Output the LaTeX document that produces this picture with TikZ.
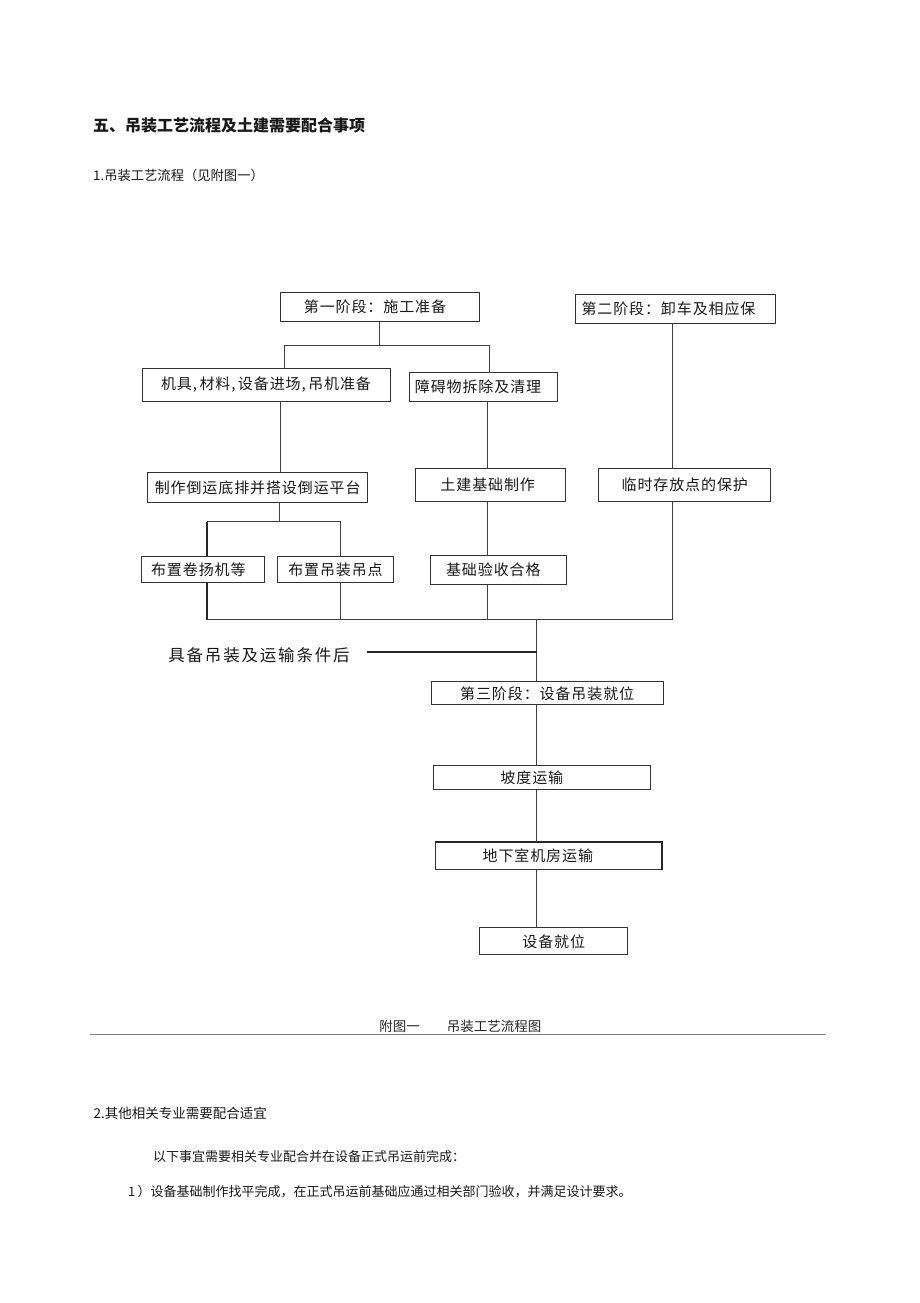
\documentclass[tikz,border=0pt]{standalone}
\usepackage{fontspec}
\setmainfont{Noto Sans CJK SC}
\newfontfamily\boxfont[LetterSpace=6]{Noto Sans CJK SC}
\newfontfamily\condfont[LetterSpace=11]{Noto Sans CJK SC}
\newcommand\shiftL[2]{\hspace*{-#1}#2}
\begin{document}
\begin{tikzpicture}[x=1pt,y=-1pt,
  box/.style={draw=black!80, line width=1pt, inner sep=0pt,
    font=\boxfont\fontsize{15}{18}\selectfont, text=black!90},
  conn/.style={draw=black!75, line width=1pt},
  heavy/.style={draw=black!85, line width=1.8pt},
  txt/.style={inner sep=0pt, anchor=west, text=black!90}]
\useasboundingbox[fill=white] (0,0) rectangle (920,1303);

% headings
\node[txt, font=\fontsize{16}{19}\selectfont\bfseries] (title) at (93,125) {五、吊装工艺流程及土建需要配合事项};
\node[txt, font=\fontsize{13.3}{16}\selectfont] (sub1) at (93,175) {1.吊装工艺流程（见附图一）};

% boxes
\node[box, minimum width=199pt, minimum height=29pt] (s1) at (379.5,306.5) {\shiftL{9pt}{第一阶段：施工准备}};
\node[box, minimum width=200pt, minimum height=29pt] (s2) at (675,308.5) {\shiftL{13pt}{第二阶段：卸车及相应保}};
\node[box, minimum width=248pt, minimum height=33pt] (jj) at (266,384.5) {机具,\,材料,\,设备进场,\,吊机准备};
\node[box, minimum width=148pt, minimum height=29pt] (zq) at (483,387.2) {\shiftL{10pt}{障碍物拆除及清理}};
\node[box, minimum width=220pt, minimum height=30pt] (zz) at (257.7,487.7) {制作倒运底排并搭设倒运平台};
\node[box, minimum width=150pt, minimum height=33.4pt] (tj) at (490.7,485) {\shiftL{6pt}{土建基础制作}};
\node[box, minimum width=171.7pt, minimum height=33.4pt] (ls) at (684.8,485) {临时存放点的保护};
\node[box, minimum width=123.3pt, minimum height=25.6pt] (bj) at (203.3,569.5) {\shiftL{10pt}{布置卷扬机等}};
\node[box, minimum width=115.6pt, minimum height=25.6pt] (bd) at (335.5,569.5) {布置吊装吊点};
\node[box, minimum width=135.7pt, minimum height=29.3pt] (ys) at (498.8,569.7) {\shiftL{11pt}{基础验收合格}};
\node[box, minimum width=232.3pt, minimum height=23.3pt] (s3) at (547.2,693.3) {第三阶段：设备吊装就位};
\node[box, minimum width=216.7pt, minimum height=24.3pt] (pd) at (542.3,777.8) {\shiftL{21pt}{坡度运输}};
\node[box, minimum width=225.7pt, minimum height=26.6pt] (dx) at (548.8,856) {\shiftL{22pt}{地下室机房运输}};
\node[box, minimum width=147.7pt, minimum height=27.3pt] (jw) at (553.8,941.3) {设备就位};
\draw[heavy] (dx.north west) -- (dx.north east) -- (dx.south east);

% condition label
\node[inner sep=0pt, font=\condfont\fontsize{16.5}{19}\selectfont, text=black!90] (cond) at (259,655) {具备吊装及运输条件后};

% coordinates for connector columns
\coordinate (j1) at (284,345.7);
\coordinate (j2) at (489.3,345.7);
\coordinate (xa) at (280,0);
\coordinate (xb) at (487.7,0);
\coordinate (xc) at (672.5,0);
\coordinate (k0) at (279,521.7);
\coordinate (k1) at (206.7,521.7);
\coordinate (k2) at (340.5,521.7);
\coordinate (m1) at (206.7,619.5);
\coordinate (m2) at (672.5,619.5);
\coordinate (m0) at (536.7,619.5);
\coordinate (ci) at (366.7,652);
\coordinate (cj) at (536.7,652);

% connectors
\draw[conn] (s1.south) -- (s1.south |- j1);
\draw[conn] (j1 |- jj.north) -- (j1) -- (j2) -- (j2 |- zq.north);
\draw[conn] (jj.south -| xa) -- (zz.north -| xa);
\draw[conn] (zq.south -| xb) -- (tj.north -| xb);
\draw[conn] (tj.south -| xb) -- (ys.north -| xb);
\draw[conn] (s2.south -| xc) -- (ls.north -| xc);
\draw[conn] (zz.south -| k0) -- (k0);
\draw[conn] (k1) -- (k2) -- (k2 |- bd.north);
\draw[heavy] (k1) -- (k1 |- bj.north);
\draw[heavy] (bj.south -| m1) -- (m1);
\draw[conn] (m1) -- (m2) -- (ls.south -| m2);
\draw[conn] (bd.south -| k2) -- (k2 |- m1);
\draw[conn] (ys.south -| xb) -- (xb |- m1);
\draw[conn] (m0) -- (s3.north -| m0);
\draw[line width=2.4pt, draw=black!85] (ci) -- (cj);
\draw[conn] (s3.south -| m0) -- (pd.north -| m0);
\draw[conn] (pd.south -| m0) -- (dx.north -| m0);
\draw[conn] (dx.south -| m0) -- (jw.north -| m0);

% caption and rule
\node[inner sep=0pt, font=\fontsize{13.5}{16}\selectfont, text=black!85] (cap) at (460.3,1026) {附图一\hspace{2em}吊装工艺流程图};
\coordinate (r1) at (90,1034.5);
\coordinate (r2) at (826,1034.5);
\draw[draw=black!50, line width=1.2pt] (r1) -- (r2);

% following text
\node[txt, font=\fontsize{13.5}{16}\selectfont] (sub2) at (93.5,1113) {2.其他相关专业需要配合适宜};
\node[txt, font=\fontsize{13}{16}\selectfont] (para) at (153,1157) {以下事宜需要相关专业配合并在设备正式吊运前完成：};
\node[txt, font=\fontsize{13}{16}\selectfont] (item1) at (128,1192) {1\,）设备基础制作找平完成，在正式吊运前基础应通过相关部门验收，并满足设计要求。};
\end{tikzpicture}
\end{document}
